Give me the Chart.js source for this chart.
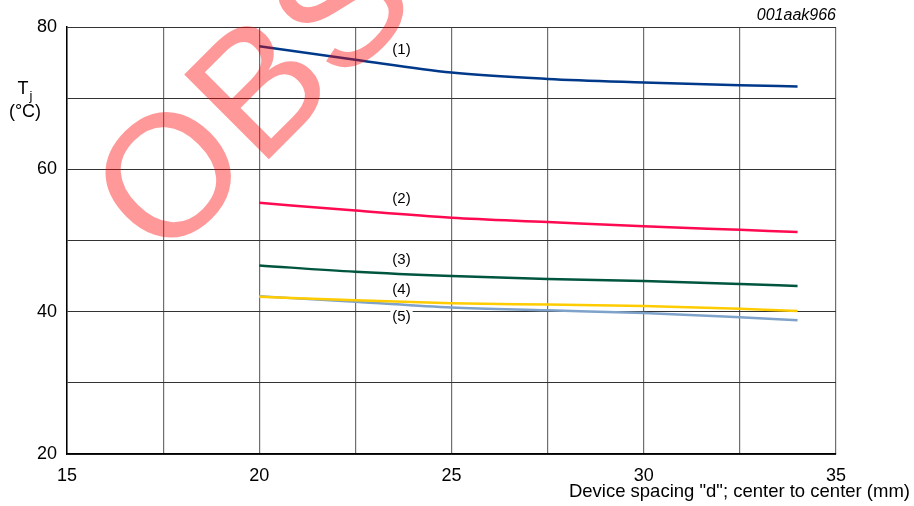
<!DOCTYPE html>
<html>
<head>
<meta charset="utf-8">
<script src="https://cdn.jsdelivr.net/npm/chart.js@4"></script>
<style>
  html, body { margin: 0; padding: 0; background: #fff; }
  #wrap { width: 914px; height: 506px; position: relative; }
</style>
</head>
<body>
<div id="wrap"><canvas id="c" width="914" height="506"></canvas></div>
<script>
// Device spacing "d" (mm)
const spacing = [20, 22.5, 25, 27.5, 30, 32.5, 34];

// Junction temperature Tj (°C) per curve
const curve1 = [77.3, 75.4, 73.6, 72.7, 72.2, 71.8, 71.65];
const curve2 = [55.3, 54.2, 53.2, 52.6, 52.0, 51.5, 51.2];
const curve3 = [46.5, 45.6, 45.0, 44.6, 44.3, 43.9, 43.6];
const curve4 = [42.1, 41.6, 41.2, 41.0, 40.8, 40.4, 40.1];
const curve5 = [42.15, 41.4, 40.6, 40.2, 39.8, 39.2, 38.8];

const curveNames = ['(1)', '(2)', '(3)', '(4)', '(5)'];
// where each curve name sits: [x (mm), Tj (°C)]
const nameX = [23.7, 23.7, 23.7, 23.7, 23.7];
const nameY = [76.8, 55.9, 47.3, 43.1, 39.3];

const xTickLabels = [15, 20, 25, 30, 35];
const yTickLabels = [20, 40, 60, 80];

const colors = ['#00398a', '#ff0a50', '#00553f', '#ffcc00', '#7ea2c9'];
const FONT = 'Liberation Sans, Arial, Helvetica, sans-serif';

function pts(ys) { return spacing.map((x, i) => ({ x: x, y: ys[i] })); }

const overlay = {
  id: 'overlay',
  afterDatasetsDraw(chart) {
    const ctx = chart.ctx;
    const xs = chart.scales.x, ys = chart.scales.y;
    ctx.save();
    ctx.font = '15px ' + FONT;
    ctx.textAlign = 'center';
    ctx.textBaseline = 'middle';
    curveNames.forEach((t, i) => {
      const px = xs.getPixelForValue(nameX[i]);
      const py = ys.getPixelForValue(nameY[i]);
      if (i === 4) {
        const w = ctx.measureText(t).width + 4;
        ctx.fillStyle = '#fff';
        ctx.fillRect(px - w / 2, py - 8, w, 16);
      }
      ctx.fillStyle = '#000';
      ctx.fillText(t, px, py);
    });
    ctx.restore();
  },
  afterDraw(chart) {
    const ctx = chart.ctx;
    const area = chart.chartArea;
    ctx.save();
    // axis titles
    ctx.fillStyle = '#000';
    ctx.textBaseline = 'middle';
    ctx.font = '18.5px ' + FONT;
    ctx.textAlign = 'right';
    ctx.fillText('Device spacing "d"; center to center (mm)', 910, 492);
    ctx.textAlign = 'center';
    ctx.font = '18px ' + FONT;
    ctx.fillText('T', 23, 89);
    ctx.font = '13px ' + FONT;
    ctx.fillText('j', 31, 96);
    ctx.font = '18px ' + FONT;
    ctx.fillText('(°C)', 25, 112);
    ctx.font = 'italic 16px ' + FONT;
    ctx.textAlign = 'right';
    ctx.fillText('001aak966', area.right, 16);

    // stamp
    ctx.translate(163, 265);
    ctx.rotate(-Math.PI / 4);
    ctx.font = '174px ' + FONT;
    ctx.textAlign = 'left';
    ctx.textBaseline = 'alphabetic';
    ctx.fillStyle = 'rgba(255,0,0,0.4)';
    ctx.fillText('OBSOLETE', 0, 0);
    ctx.restore();
  }
};

new Chart(document.getElementById('c'), {
  type: 'line',
  data: {
    datasets: [curve1, curve2, curve3, curve4, curve5].map((d, i) => ({
      label: curveNames[i],
      data: pts(d),
      borderColor: colors[i],
      borderWidth: 2.5,
      pointRadius: 0,
      fill: false,
      tension: 0.4,
      cubicInterpolationMode: 'monotone'
    }))
  },
  options: {
    responsive: false,
    animation: false,
    events: [],
    layout: { padding: { left: 0, top: 27, right: 78, bottom: 0 } },
    plugins: { legend: { display: false }, tooltip: { enabled: false } },
    scales: {
      x: {
        type: 'linear',
        min: 15, max: 35,
        afterFit(s) { s.height = 52; },
        afterBuildTicks(s) {
          const t = [];
          for (let v = 15; v <= 35.001; v += 2.5) t.push({ value: v });
          s.ticks = t;
        },
        ticks: {
          padding: 11,
          color: '#000',
          font: { family: FONT, size: 18 },
          maxRotation: 0,
          autoSkip: false,
          callback: v => xTickLabels.includes(v) ? String(v) : ''
        },
        grid: { color: '#6e6e6e', lineWidth: 1.2, drawTicks: false },
        border: { color: '#000', width: 1.5 }
      },
      y: {
        type: 'linear',
        min: 20, max: 80,
        afterFit(s) { s.width = 67; },
        afterBuildTicks(s) {
          const t = [];
          for (let v = 20; v <= 80; v += 10) t.push({ value: v });
          s.ticks = t;
        },
        ticks: {
          padding: 10,
          color: '#000',
          font: { family: FONT, size: 18 },
          autoSkip: false,
          callback: v => yTickLabels.includes(v) ? String(v) : ''
        },
        grid: { color: '#333', lineWidth: 1, drawTicks: false },
        border: { color: '#000', width: 1.5 }
      }
    }
  },
  plugins: [overlay]
});
</script>
</body>
</html>
